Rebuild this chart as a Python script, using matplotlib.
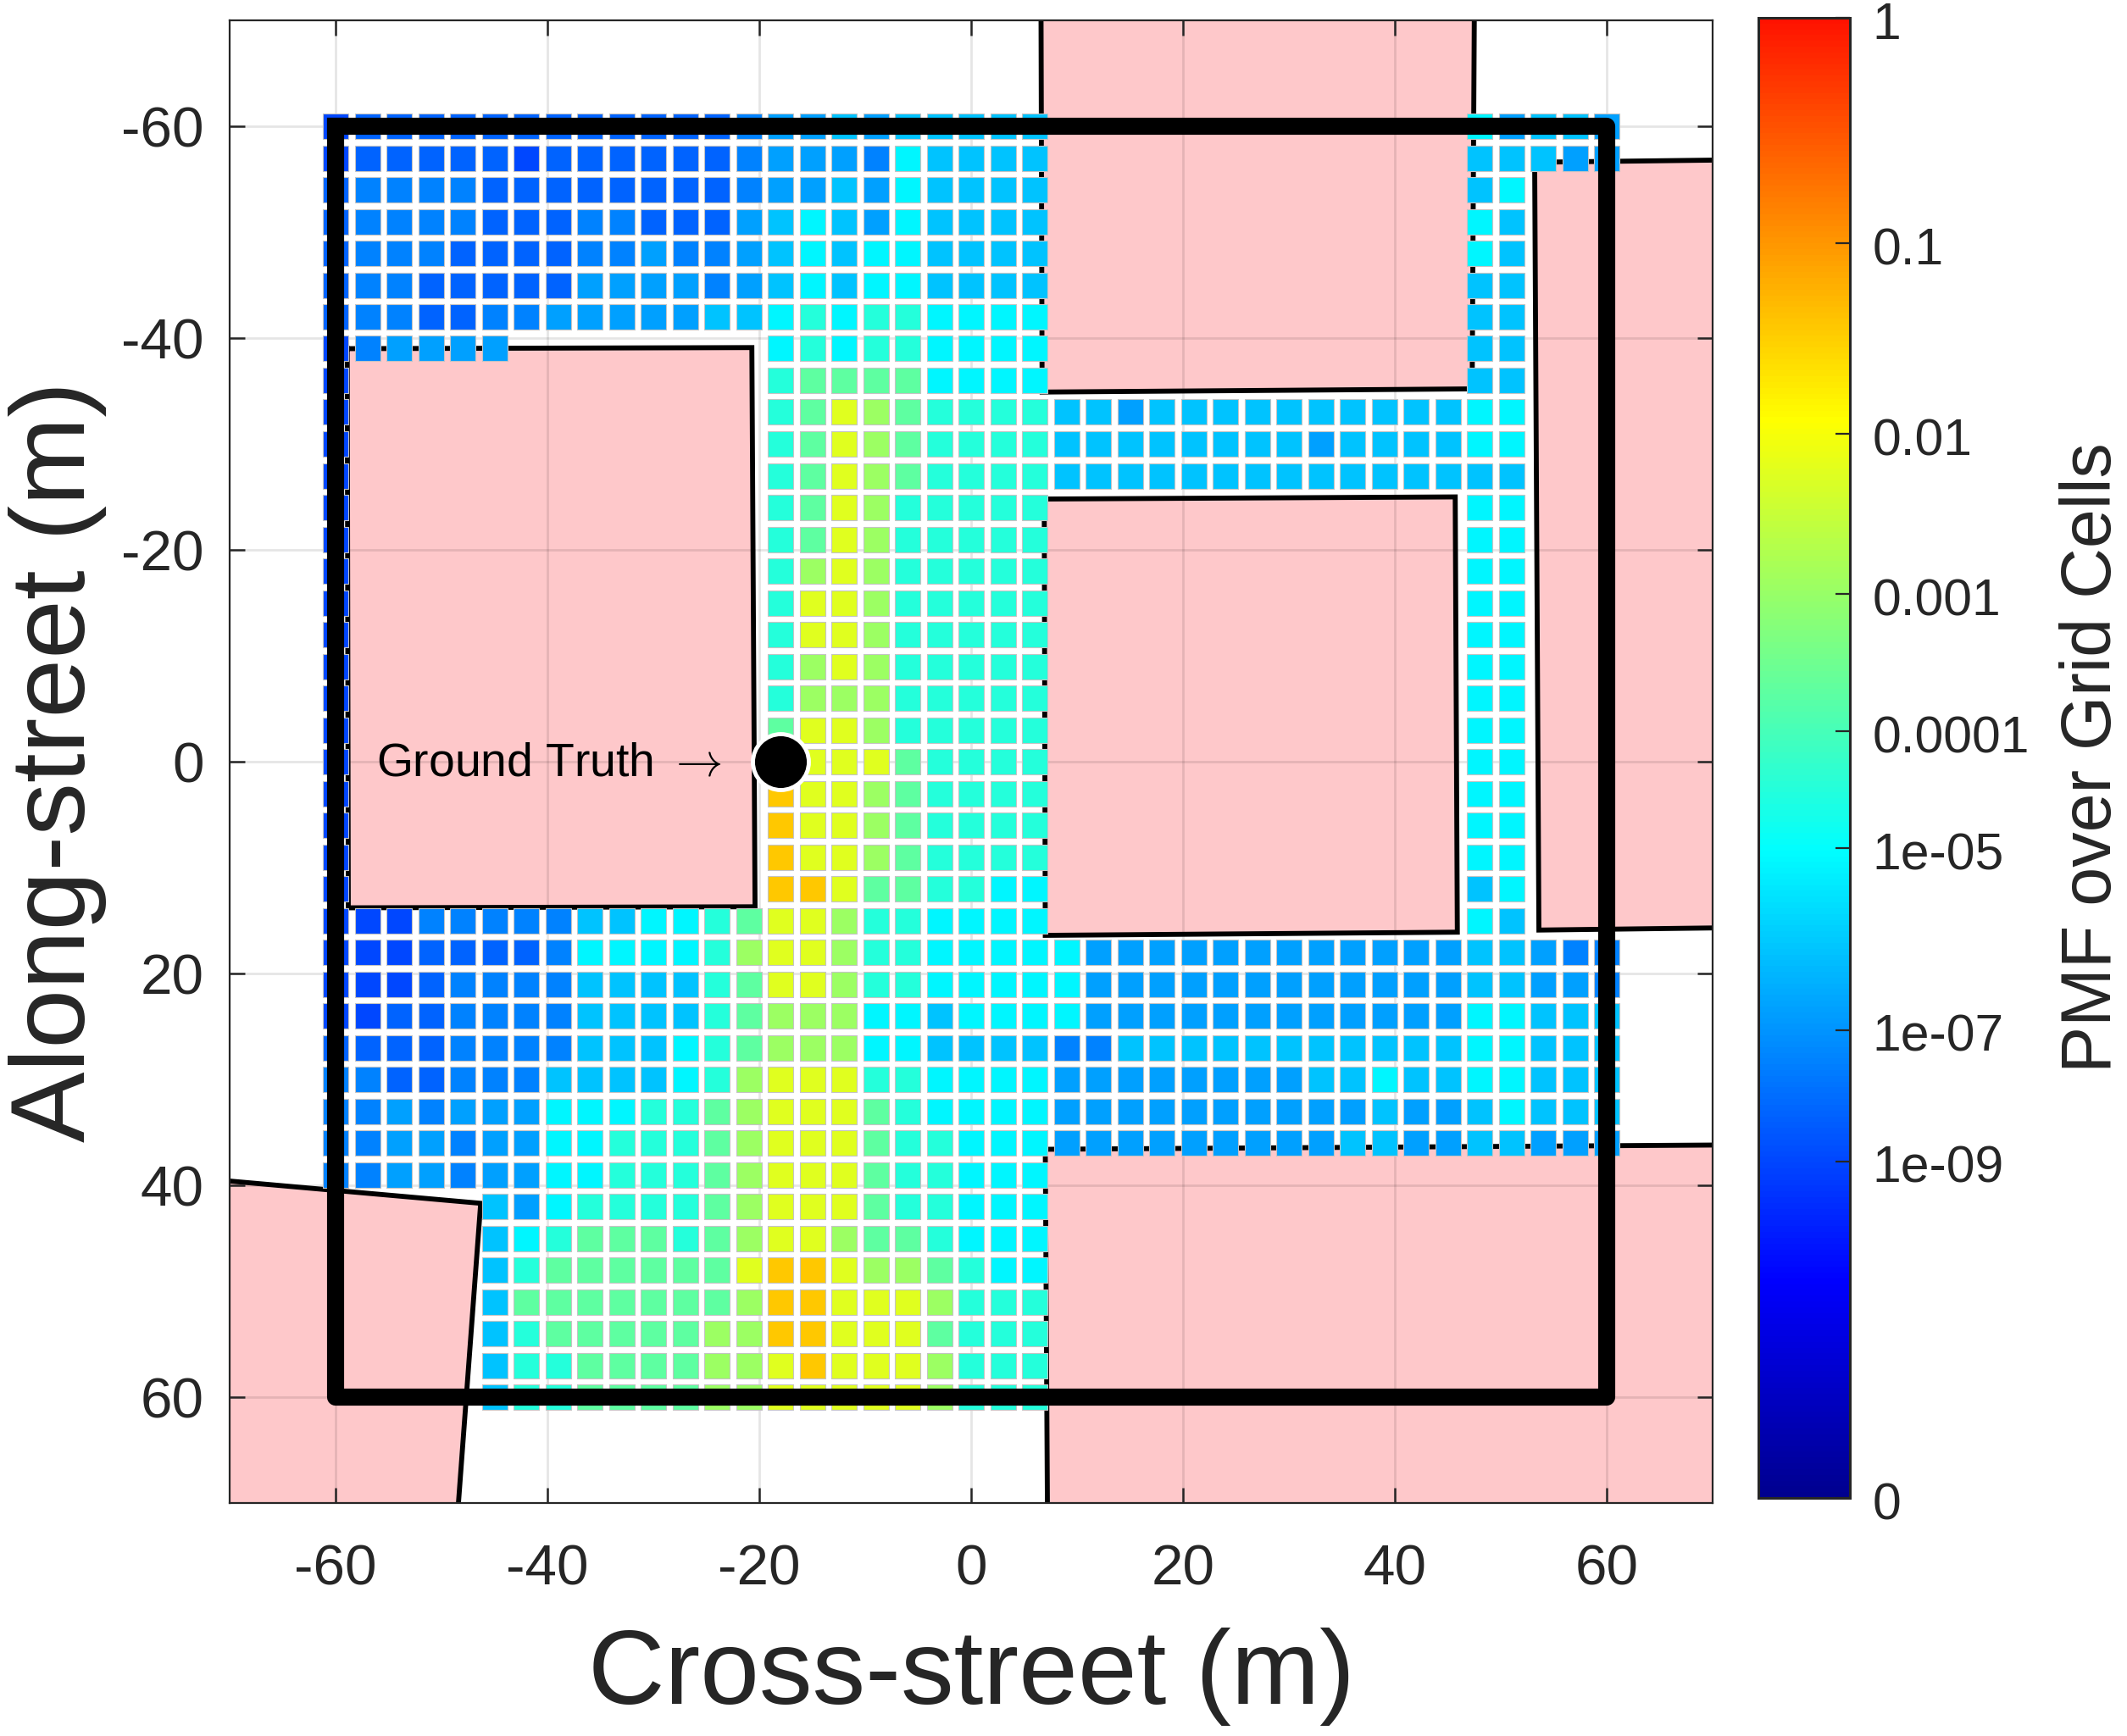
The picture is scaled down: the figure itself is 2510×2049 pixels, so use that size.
import numpy as np
import matplotlib
matplotlib.use("Agg")
import matplotlib.pyplot as plt
from matplotlib.cm import ScalarMappable
from matplotlib.colors import ListedColormap, Normalize
from matplotlib.patches import Rectangle
from matplotlib.collections import PatchCollection
from matplotlib.transforms import ScaledTranslation

plt.rcParams['font.family'] = ['Liberation Sans', 'DejaVu Sans']
plt.rcParams['mathtext.fontset'] = 'cm'
plt.rcParams['axes.unicode_minus'] = False

DARK = '#262626'

# cell centres (m)
cell_x = list(range(-60, 61, 3))
cell_y = list(range(-60, 61, 3))
cell_w = 2.4

# PMF, one letter per distinct level
level_pmf = {'a': 9e-10, 'b': 5.5e-9, 'c': 3.4e-8, 'd': 1.6e-7, 'e': 7.2e-7, 'f': 6.3e-6,
             'g': 3e-5, 'h': 2e-4, 'i': 1.1e-3, 'j': 5.9e-3, 'k': 3.7e-2}

# one row per along-street position: x=-60..6 | x=9..45 | x=48..60
pmf_rows = [
    "a bbbbbbbbbbbb c dd e d eeeee | ............. | f d e e d",
    "a bbbbb a bbbbbb c ddd c f eeee | ............. | e e e d d",
    "b cccc bbbbbbbb c d d e d f eeee | ............. | e f ...",
    "b cccc bbb cc bbb d e f e d f eeee | ............. | f e ...",
    "b ccc bbbb cc d cc d e f e f f eeee | ............. | f e ...",
    "b cc bbbbb dddd c d e f e f f eeee | ............. | e e ...",
    "b cc bb cc ddddd e e f g f g g ffff | ............. | e e ...",
    "a c dddd ........ f g f g g ffff | ............. | e e ...",
    "a ............. g hhhh ffff | ............. | e e ...",
    "a ............. g h j i h gggg | ee d eeeeeeeeee | f f ...",
    "a ............. g h j i h gggg | eeeeeeee d eeee | f f ...",
    "a ............. g h j i h gggg | eeeeeeeeeeeee | e e ...",
    "a ............. g h j i ggggg | ............. | f f ...",
    "a ............. g h j i ggggg | ............. | f f ...",
    "a ............. g i j i ggggg | ............. | f f ...",
    "a ............. g j j i ggggg | ............. | f f ...",
    "a ............. g j j i ggggg | ............. | f f ...",
    "a ............. g i j i ggggg | ............. | f f ...",
    "a ............. g i i i ggggg | ............. | f f ...",
    "a ............. h j j i ggggg | ............. | f f ...",
    "a ............. k j j j h gggg | ............. | f f ...",
    "a ............. k j j i h gggg | ............. | f f ...",
    "a ............. k j j i h gggg | ............. | f f ...",
    "a ............. k j j i h gggg | ............. | f f ...",
    "a ............. k k j h h gg ff | ............. | e f ...",
    "a aa ccccc ee ff g h jj i gg ffff | ............. | f e ...",
    "a aa bbbb c ffff g i jj i gg ffff | f dddddddddddd | e e d c c",
    "a aa b cccc eeee g h jj i gg ffff | f dddddddddddd | e e d d c",
    "a a bb cccc eeee g h iii ff e fff | f dddddddddddd | f f e e e",
    "b bbb cccc eee f g h iii ff eeee | c c eeeeeeeeeee | f f e e e",
    "c c bb ccc eeee f g i jjj gg ffff | dddddddd e e f e e | f f e e e",
    "c c d c ddd fff gg h i jjj h g ffff | dddddddddd e dd | e f e e e",
    "c c dd c dd ff ggg h i jjj h gg fff | ddddddddd e e d d | e e d d d",
    "c c dd c dd ff ggg h i jjj h gg fff | ............. | .....",
    "..... e d f gggg h i jjj h gg fff | ............. | .....",
    "..... e f g hhh g h i jj i hh g fff | ............. | .....",
    "..... e g hhhhhh j kk j ii h g ff | ............. | .....",
    "..... e hhhhhhh i kk jjj i ggg | ............. | .....",
    "..... e g hhhhh ii kk jjj h ggg | ............. | .....",
    "..... e gg hhhh ii j k jjj i ggg | ............. | .....",
    "..... e gg hhhh ii jjjjj i ggg | ............. | .....",
]

# buildings, (x, y) in metres, with how many vertices get the black outline
building_a = [(-58.9, -39.0), (-20.7, -39.1), (-20.4, 13.7), (-58.8, 13.8), (-58.9, -39.0)]
building_b = [(47.5, -70), (47.3, -35.2), (6.7, -34.9), (6.6, -70)]
building_c = [(70, -56.8), (53.2, -56.6), (53.6, 15.9), (70, 15.7)]
building_d = [(6.9, -24.8), (45.7, -25.0), (45.9, 16.1), (7.0, 16.4), (6.9, -24.8)]
building_e = [(70, 36.2), (7.0, 36.6), (7.2, 70), (70, 70)]
building_f = [(-70, 39.6), (-46.3, 41.7), (-48.4, 70), (-70, 70)]
buildings = [(building_a, 5), (building_b, 4), (building_c, 4),
             (building_d, 5), (building_e, 3), (building_f, 3)]

search_box_x = [-60, 60, 60, -60, -60]
search_box_y = [-60, -60, 60, 60, -60]
truth_x = -18
truth_y = 0

axis_ticks = [-60, -40, -20, 0, 20, 40, 60]

# the colourbar spacing is not a plain log scale
cbar_pos = [0, 0.2273, 0.3160, 0.4389, 0.5179, 0.6105, 0.7187, 0.8477, 1]
cbar_labels = ['0', '1e-09', '1e-07', '1e-05', '0.0001', '0.001', '0.01', '0.1', '1']
cbar_log = [-9, -7, -5, -4, -3, -2, -1, 0]

# MATLAB style jet, the top of it is cut off in this figure
p = np.linspace(0, 0.857, 256)
jet_r = np.interp(p, [0, 0.375, 0.625, 0.875, 1], [0, 0, 1, 1, 0.5])
jet_g = np.interp(p, [0, 0.125, 0.375, 0.625, 0.875, 1], [0, 0, 1, 1, 0, 0])
jet_b = np.interp(p, [0, 0.125, 0.375, 0.625, 1], [0.56, 1, 1, 0, 0])
cmap = ListedColormap(np.column_stack([jet_r, jet_g, jet_b]))

W, H = 2510, 2049
fig = plt.figure(figsize=(W / 100, H / 100), dpi=100)
ax = fig.add_axes([271 / W, 1 - 1774 / H, 1750 / W, 1750 / H])

for verts, n_out in buildings:
    xs, ys = zip(*verts)
    ax.fill(xs, ys, color='#fec8ca', lw=0, zorder=1)
    ax.plot(xs[:n_out], ys[:n_out], color='k', lw=4.2, zorder=2, solid_joinstyle='miter')

ax.set_xlim(-70, 70)
ax.set_ylim(70, -70)
ax.set_xticks(axis_ticks)
ax.set_yticks(axis_ticks)
ax.set_axisbelow(False)
ax.grid(True, color='k', alpha=0.1, lw=2.0, zorder=1.5)
for gl in ax.get_xgridlines() + ax.get_ygridlines():
    gl.set_zorder(1.5)

rects = []
vals = []
for row, yc in zip(pmf_rows, cell_y):
    letters = row.replace(' ', '').replace('|', '')
    assert len(letters) == len(cell_x), (yc, len(letters))
    for ch, xc in zip(letters, cell_x):
        if ch == '.':
            continue
        rects.append(Rectangle((xc - cell_w / 2, yc - cell_w / 2), cell_w, cell_w))
        vals.append(np.interp(np.log10(level_pmf[ch]), cbar_log, cbar_pos[1:]))

cells = PatchCollection(rects, cmap=cmap, norm=Normalize(0, 1), edgecolor='#c4c4c4', linewidth=0.8, zorder=3)
cells.set_array(np.array(vals))
ax.add_collection(cells)

ax.plot(search_box_x, search_box_y, color='k', lw=14.5, solid_joinstyle='round', zorder=4)
ax.plot([truth_x], [truth_y], 'o', ms=47.5, mfc='k', mec='w', mew=3.5, zorder=5)
ax.text(-56.2, 0.2, 'Ground Truth $\\rightarrow$', fontsize=39.8, color='k', va='center', ha='left', zorder=6)

ax.tick_params(direction='in', length=13, width=1.8, color=DARK, top=True, right=True,
               labelsize=48.5, labelcolor=DARK)
ax.tick_params(axis='x', pad=35)
ax.tick_params(axis='y', pad=22)
for s in ax.spines.values():
    s.set_linewidth(1.6)
    s.set_color(DARK)
    s.set_zorder(7)
ax.set_xlabel('Cross-street (m)', fontsize=90.2, color=DARK, labelpad=26)
ax.set_ylabel('Along-street (m)', fontsize=90.2, color=DARK, labelpad=12)

cax = fig.add_axes([2075 / W, 1 - 1768 / H, 108 / W, 1747 / H])
sm = ScalarMappable(norm=Normalize(0, 1), cmap=cmap)
cb = fig.colorbar(sm, cax=cax, ticks=cbar_pos)
cb.ax.set_yticklabels(cbar_labels)
cb.ax.tick_params(direction='in', length=12, width=1.6, color=DARK, labelsize=43.7, labelcolor=DARK, pad=19)
shift = ScaledTranslation(0, -3 / 100, fig.dpi_scale_trans)
for lab in cb.ax.get_yticklabels():
    lab.set_transform(lab.get_transform() + shift)
cb.outline.set_linewidth(2.2)
cb.outline.set_edgecolor(DARK)
cb.set_label('PMF over Grid Cells', fontsize=59.5, color=DARK, labelpad=25)

fig.savefig('out.png', dpi=100)
